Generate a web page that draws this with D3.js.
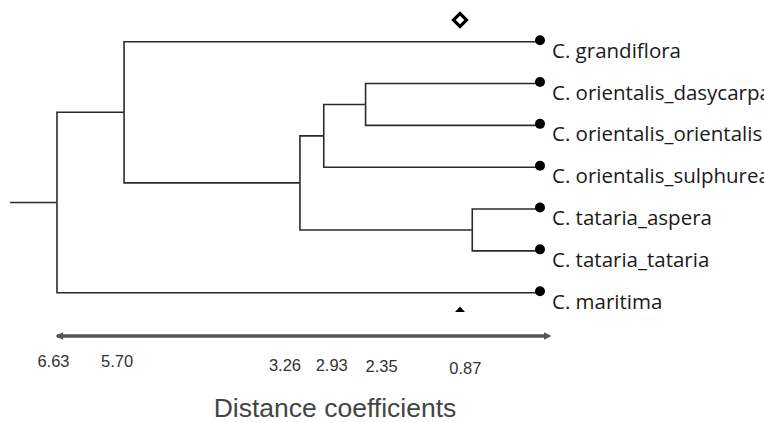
<!DOCTYPE html>
<html>
<head>
<meta charset="utf-8">
<script src="https://cdn.jsdelivr.net/npm/d3@7"></script>
<style>
  body { margin: 0; background: #fff; }
  svg { display: block; }
</style>
</head>
<body>
<div id="viz"></div>
<script>
// leaves, top to bottom
var leaves = ["C. grandiflora", "C. orientalis_dasycarpa", "C. orientalis_orientalis",
  "C. orientalis_sulphurea", "C. tataria_aspera", "C. tataria_tataria", "C. maritima"];

// internal nodes: id, parent, distance
var nodeIds = ["n1", "n2", "n3", "n4", "n5", "n6"];
var nodeParents = ["", "n1", "n2", "n3", "n4", "n3"];
var nodeHeights = [6.63, 5.70, 3.26, 2.93, 2.35, 0.87];

// parent of each leaf
var leafParents = ["n2", "n5", "n5", "n4", "n6", "n6", "n1"];

var rootStub = 7.28; // length of the stem left of the root
var tickValues = [6.63, 5.70, 3.26, 2.93, 2.35, 0.87];
var axisTitle = "Distance coefficients";

var width = 764, height = 422;

// hand placed tick labels in the original
var tickNudgeX = [-3.5, -7, -15, 8, 16, -7];
var tickNudgeY = [0, 0, 4, 4, 5, 7];

var rows = nodeIds.map(function(id, i) {
  return {id: id, parent: nodeParents[i] || null, height: nodeHeights[i]};
}).concat(leaves.map(function(name, i) {
  return {id: name, parent: leafParents[i], height: 0};
}));

var root = d3.stratify()
  .id(function(d) { return d.id; })
  .parentId(function(d) { return d.parent; })(rows);

var x = d3.scaleLinear().domain([6.63, 0]).range([57, 535]);
var y = d3.scalePoint().domain(leaves).range([41.7, 292.7]);

// y of each node: leaves from scale, internal = middle of children
root.eachAfter(function(n) {
  if (!n.children) n.y = y(n.id);
  else n.y = d3.mean(n.children, function(c) { return c.y; });
  n.x = x(n.data.height);
});

var svg = d3.select("#viz").append("svg")
  .attr("width", width)
  .attr("height", height);

var g = svg.append("g");

// root stem
g.append("line")
  .attr("x1", x(rootStub)).attr("x2", root.x)
  .attr("y1", root.y).attr("y2", root.y)
  .attr("stroke", "#2b2b2b").attr("stroke-width", 1.6);

// elbow links
g.selectAll("path.link")
  .data(root.links())
  .enter().append("path")
  .attr("class", "link")
  .attr("fill", "none")
  .attr("stroke", "#2b2b2b")
  .attr("stroke-width", 1.6)
  .attr("d", function(d) {
    var tx = d.target.children ? d.target.x : d.target.x + 3;
    return "M" + d.source.x + "," + d.source.y + "V" + d.target.y + "H" + tx;
  });

var leafNodes = root.leaves().sort(function(a, b) { return a.y - b.y; });

g.selectAll("circle.leaf")
  .data(leafNodes)
  .enter().append("circle")
  .attr("class", "leaf")
  .attr("cx", function(d) { return d.x + 5; })
  .attr("cy", function(d) { return d.y - 1.5; })
  .attr("r", 5)
  .attr("fill", "#000");

g.selectAll("text.leaf")
  .data(leafNodes)
  .enter().append("text")
  .attr("class", "leaf")
  .attr("x", function(d) { return d.x + 17; })
  .attr("y", function(d) { return d.y + 16; })
  .attr("font-family", "'Open Sans', 'Noto Sans', sans-serif")
  .attr("font-size", 20.5)
  .attr("fill", "#1a1a1a")
  .text(function(d) { return d.id; });

// markers above / below the tree
var mx = 460;
g.append("path")
  .attr("d", d3.symbol().type(d3.symbolSquare).size(85)())
  .attr("transform", "translate(" + mx + ",20) rotate(45)")
  .attr("fill", "#fff")
  .attr("stroke", "#000")
  .attr("stroke-width", 3.2);

g.append("path")
  .attr("d", "M-5,3L0,-2.5L5,3Z")
  .attr("transform", "translate(" + mx + ",309)")
  .attr("fill", "#000");

// axis
var axisY = 336;
var defs = svg.append("defs");
["start", "end"].forEach(function(k) {
  defs.append("marker")
    .attr("id", "arrow-" + k)
    .attr("viewBox", "0 -3 6 6")
    .attr("refX", k == "end" ? 1 : 5)
    .attr("refY", 0)
    .attr("markerWidth", 2.2)
    .attr("markerHeight", 2.2)
    .attr("orient", "auto-start-reverse")
    .append("path")
    .attr("d", "M0,-3L6,0L0,3Z")
    .attr("fill", "#555");
});

g.append("line")
  .attr("x1", x(6.63)).attr("x2", x(0) + 10)
  .attr("y1", axisY).attr("y2", axisY)
  .attr("stroke", "#555")
  .attr("stroke-width", 3.5)
  .attr("marker-start", "url(#arrow-start)")
  .attr("marker-end", "url(#arrow-end)");

g.selectAll("text.tick")
  .data(tickValues)
  .enter().append("text")
  .attr("class", "tick")
  .attr("x", function(d, i) { return x(d) + tickNudgeX[i]; })
  .attr("y", function(d, i) { return 367 + tickNudgeY[i]; })
  .attr("text-anchor", "middle")
  .attr("font-family", "'Liberation Sans', Arial, sans-serif")
  .attr("font-size", 16.5)
  .attr("fill", "#333")
  .text(function(d) { return d3.format(".2f")(d); });

g.append("text")
  .attr("x", 335)
  .attr("y", 417)
  .attr("text-anchor", "middle")
  .attr("font-family", "'Liberation Sans', Arial, sans-serif")
  .attr("font-size", 26.5)
  .attr("fill", "#444")
  .text(axisTitle);
</script>
</body>
</html>
